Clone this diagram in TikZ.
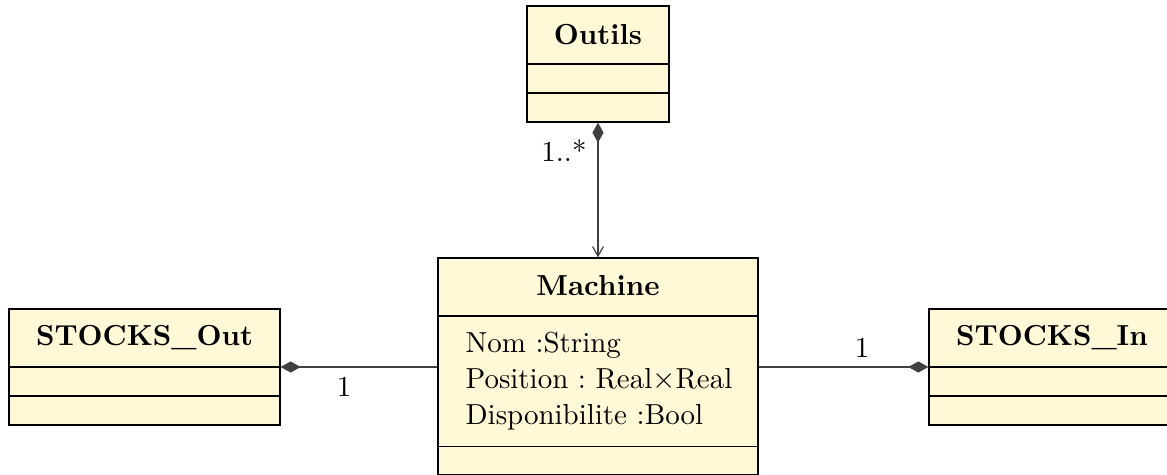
\documentclass[tikz,border=0pt]{standalone}
\usetikzlibrary{fit,arrows.meta}
\definecolor{umlfill}{RGB}{255,249,215}
\frenchspacing
\begin{document}
\begin{tikzpicture}[x={(0.3333pt,0)},y={(0,-0.3333pt)},
  every node/.style={font=\fontsize{9.65}{11.6}\selectfont},
  classbox/.style={draw=black,fill=umlfill,inner sep=0pt,line width=0.4pt},
  sepline/.style={draw=black,line width=0.4pt},
  title/.style={font=\fontsize{9.65}{11.6}\selectfont\bfseries,inner sep=0pt},
  attr/.style={anchor=base west,inner sep=0pt},
  mult/.style={inner sep=0pt},
  conn/.style={draw=black!75,line width=0.4pt},
  comp/.style={conn,-{Diamond[length=6.7pt,width=3.7pt]}},
  compnav/.style={conn,{Diamond[length=6.7pt,width=3.7pt]}-{Straight Barb[length=3.2pt,width=3.6pt]}}
]
\useasboundingbox (0,0) rectangle (1167,475);
% Outils
\node[classbox,fit={(527,6) (669,122)}] (outils) {};
\draw[sepline] (527,64) -- (669,64);
\draw[sepline] (527,93) -- (669,93);
\node[title] (outilsT) at (598,35) {Outils};
% Machine
\node[classbox,fit={(438,258) (758,474.5)}] (machine) {};
\draw[sepline] (438,316) -- (758,316);
\draw[sepline] (438,446.5) -- (758,446.5);
\node[title] (machineT) at (598,286) {Machine};
\node[attr] (a1) at (465,353) {Nom :String};
\node[attr] (a2) at (465,389) {Position : Real$\times$Real};
\node[attr] (a3) at (465,425) {Disponibilite :Bool};
% STOCKS_Out
\node[classbox,fit={(9,309) (280,425)}] (stout) {};
\draw[sepline] (9,367) -- (280,367);
\draw[sepline] (9,396) -- (280,396);
\node[title] (stoutT) at (144.5,338) {STOCKS\_Out};
% STOCKS_In
\node[classbox,fit={(929,309) (1176,425)}] (stin) {};
\draw[sepline] (929,367) -- (1176,367);
\draw[sepline] (929,396) -- (1176,396);
\node[title] (stinT) at (1052,338) {STOCKS\_In};
% connectors
\draw[compnav] (outils.south) -- (machine.north);
\draw[comp] (machine.west |- stout.east) -- (stout.east);
\draw[comp] (machine.east |- stin.west) -- (stin.west);
% multiplicities
\node[mult] (m1) at (564,151) {1..*};
\node[mult] (m2) at (344,387) {1};
\node[mult] (m3) at (862,348) {1};
\end{tikzpicture}
\end{document}
